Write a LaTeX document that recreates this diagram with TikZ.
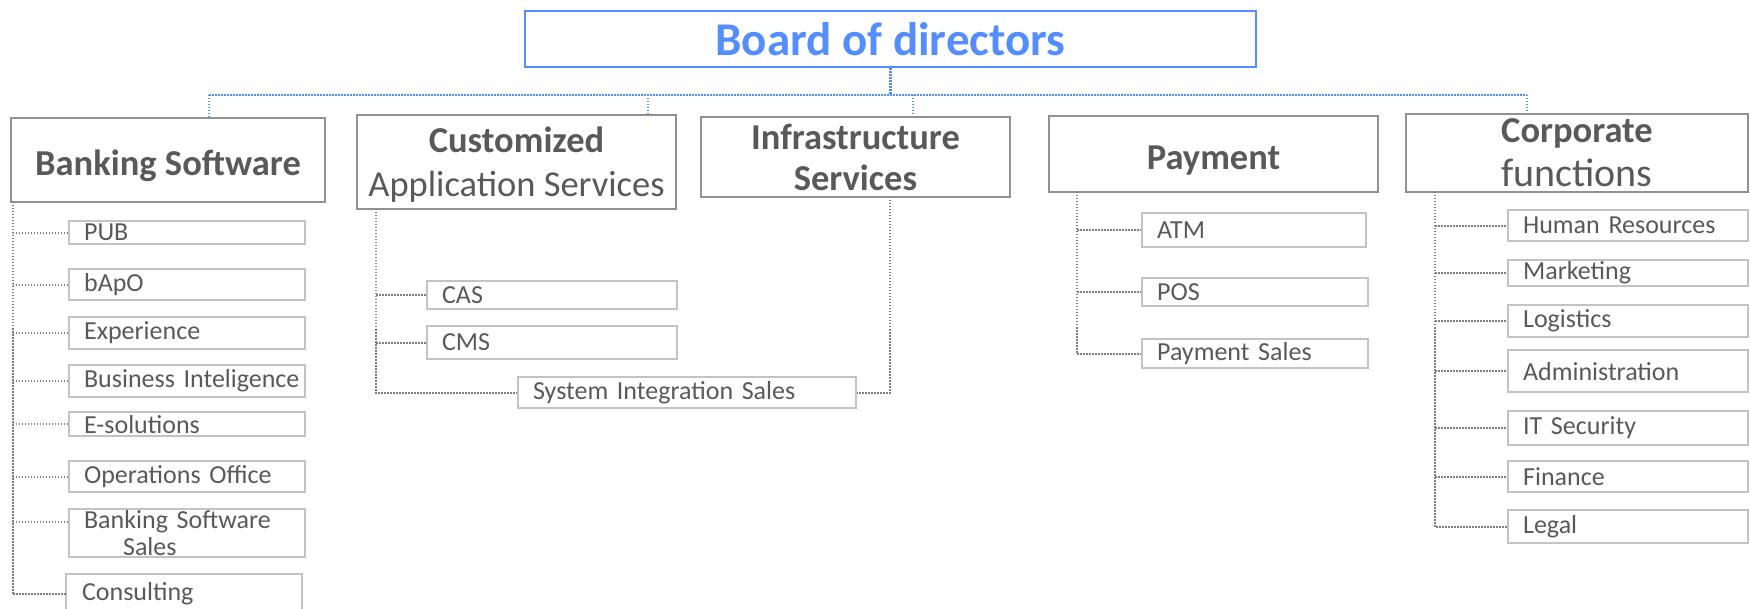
\documentclass[tikz,border=0pt]{standalone}
\usepackage{fontspec}
\setmainfont{Carlito}
\definecolor{txtgray}{RGB}{89,89,89}
\definecolor{lonegray}{RGB}{145,145,145}
\definecolor{childgray}{RGB}{195,195,195}
\definecolor{conngray}{RGB}{127,127,127}
\definecolor{boardblue}{RGB}{84,141,255}
\begin{document}
\begin{tikzpicture}[x=1pt,y=-1pt,
  boardbox/.style={draw=boardblue, line width=2.5pt, text=boardblue, font=\fontsize{47}{54}\selectfont\bfseries, minimum width=731pt, minimum height=56pt, inner sep=0pt},
  lonebox/.style={draw=lonegray, line width=2.5pt, text=txtgray, font=\fontsize{36.5}{44}\selectfont, align=center, inner sep=0pt, text depth=0pt},
  childbox/.style={draw=childgray, line width=2.2pt, text=txtgray, font=\fontsize{26}{27}\selectfont, align=left, anchor=north west, inner xsep=0pt, inner ysep=0pt, execute at begin node={\hspace*{15pt}}},
  blueconn/.style={draw=boardblue, line width=2.4pt, dash pattern=on 1.5pt off 1.5pt},
  grayconn/.style={draw=conngray, line width=2pt, dash pattern=on 1.5pt off 1.5pt}
]
\useasboundingbox (0,0) rectangle (1750,609);

% board
\node[boardbox] (board) at (890.5,39) {Board of directors};

% level 1
\node[lonebox, minimum width=314pt, minimum height=84pt, text height=32pt] (bs) at (168,160) {\textbf{Banking Software}};
\node[lonebox, minimum width=319pt, minimum height=94pt] (cas) at (516.5,162) {\textbf{Customized}\\Application Services};
\node[lonebox, minimum width=309pt, minimum height=80pt] (is) at (855.5,157) {\textbf{Infrastructure}\\[-3pt]\textbf{Services}};
\node[lonebox, minimum width=329pt, minimum height=76pt, text height=31pt] (pay) at (1213.5,154) {\textbf{Payment}};
\node[lonebox, minimum width=342pt, minimum height=78pt] (corp) at (1577,153) {\textbf{Corporate}\\{\fontsize{40}{45}\selectfont functions}};

% blue connectors
\coordinate (hub) at (890.5,95);
\coordinate (jbs) at (209,95);
\coordinate (jcas) at (648,95);
\coordinate (jis) at (913,95);
\coordinate (jcorp) at (1527,95);
\draw[blueconn] (board.south) -- (hub);
\draw[blueconn] (jbs) -- (jcorp);
\draw[blueconn] (jbs) -- (jbs |- bs.north);
\draw[blueconn] (jcas) -- (jcas |- cas.north);
\draw[blueconn] (jis) -- (jis |- is.north);
\draw[blueconn] (jcorp) -- (jcorp |- corp.north);

% Banking software children
\node[childbox, text width=236pt, minimum height=23pt] (pub) at (68,220) {PUB};
\node[childbox, text width=236pt, minimum height=31pt] (bapo) at (68,268) {bApO};
\node[childbox, text width=236pt, minimum height=32pt] (exp) at (68,316) {Experience};
\node[childbox, text width=236pt, minimum height=32pt] (bi) at (68,364) {Business Inteligence};
\node[childbox, text width=236pt, minimum height=24pt] (esol) at (68,411) {E-solutions};
\node[childbox, text width=236pt, minimum height=31pt] (ops) at (68,460) {Operations Office};
\node[childbox, text width=236pt, minimum height=48pt] (bss) at (68,508) {Banking Software\\\hspace*{54pt}Sales};
\node[childbox, draw=none, text width=234pt, minimum height=38pt] (consult) at (66,574) {Consulting};
\draw[draw=childgray, line width=2.2pt] ([yshift=-30pt]consult.south west) -- (consult.north west) -- (consult.north east) -- ([yshift=-30pt]consult.south east);

\coordinate (bsv) at (12.5,202);
\coordinate (bssb) at ([yshift=-14pt]bss.north west);
\draw[grayconn] (bsv) -- (bsv |- consult.west) -- (consult.west);
\foreach \n in {pub,bapo,exp,bi,esol,ops}{
  \draw[grayconn] (bsv |- \n.west) -- (\n.west);
}
\draw[grayconn] (bsv |- bssb) -- (bssb);

% Customized app children
\node[childbox, text width=250pt, minimum height=28pt] (cascms) at (426,280) {CAS};
\node[childbox, text width=250pt, minimum height=33pt] (cms) at (426,325) {CMS};
\node[childbox, text width=338pt, minimum height=31pt] (sis) at (517,376) {System Integration Sales};
\coordinate (casv) at (376,209);
\draw[grayconn] (casv) -- (casv |- sis.west) -- (sis.west);
\draw[grayconn] (casv |- cascms.west) -- (cascms.west);
\draw[grayconn] (casv |- cms.west) -- (cms.west);
\coordinate (isv) at (890,200);
\draw[grayconn] (isv) -- (isv |- sis.east) -- (sis.east);

% Payment children
\node[childbox, text width=224pt, minimum height=34pt] (atm) at (1141,212) {ATM};
\node[childbox, text width=226pt, minimum height=28pt] (pos) at (1141,277) {POS};
\node[childbox, text width=226pt, minimum height=29pt] (psales) at (1141,338) {Payment Sales};
\coordinate (payv) at (1077,192);
\draw[grayconn] (payv) -- (payv |- psales.west) -- (psales.west);
\draw[grayconn] (payv |- atm.west) -- (atm.west);
\draw[grayconn] (payv |- pos.west) -- (pos.west);

% Corporate children
\node[childbox, text width=240pt, minimum height=31pt] (hr) at (1507,209) {Human Resources};
\node[childbox, text width=240pt, minimum height=26pt] (mkt) at (1507,259) {Marketing};
\node[childbox, text width=240pt, minimum height=32pt] (log) at (1507,304) {Logistics};
\node[childbox, text width=240pt, minimum height=42pt] (adm) at (1507,349) {Administration};
\node[childbox, text width=240pt, minimum height=34pt] (itsec) at (1507,410) {IT Security};
\node[childbox, text width=240pt, minimum height=31pt] (fin) at (1507,460) {Finance};
\node[childbox, text width=240pt, minimum height=33pt] (legal) at (1507,509) {Legal};
\coordinate (corpv) at (1435,192);
\draw[grayconn] (corpv) -- (corpv |- legal.west) -- (legal.west);
\foreach \n in {hr,mkt,log,adm,itsec,fin}{
  \draw[grayconn] (corpv |- \n.west) -- (\n.west);
}
\end{tikzpicture}
\end{document}
